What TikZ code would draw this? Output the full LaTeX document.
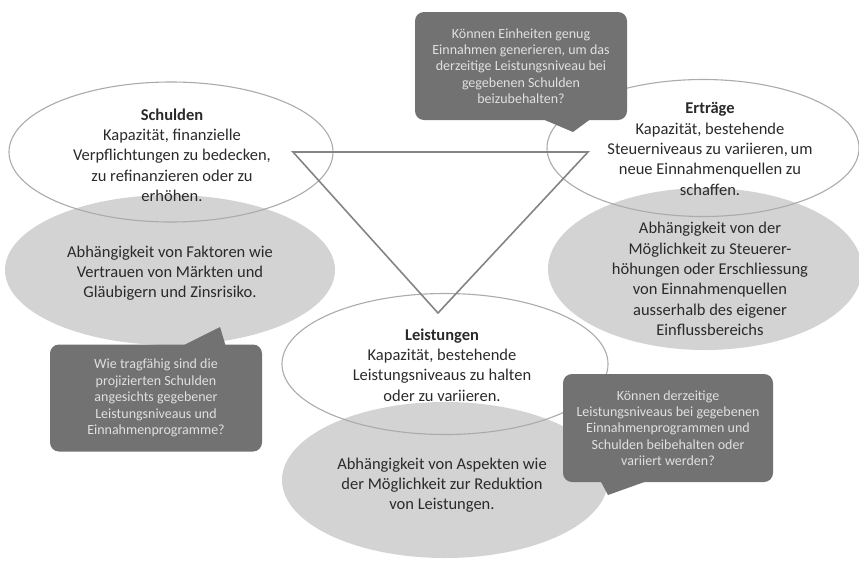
\documentclass[tikz,border=0pt]{standalone}
\usepackage{fontspec}
\setmainfont{Carlito}
\usetikzlibrary{shapes.geometric}
\definecolor{bubble}{HTML}{D3D3D3}
\definecolor{callout}{HTML}{727272}
\definecolor{rim}{HTML}{ABABAB}
\definecolor{edge}{HTML}{848484}
\definecolor{ink}{HTML}{2A2A2A}
\begin{document}
\begin{tikzpicture}[x=1pt,y=-1pt,
    grayoval/.style={ellipse,fill=bubble,inner sep=0pt},
    ringoval/.style={ellipse,draw=rim,line width=1.1pt,inner sep=0pt},
    ovaltext/.style={text=ink,align=center,font=\fontsize{16.5}{20.3}\selectfont},
    question/.style={fill=callout,rounded corners=9pt,text=white!88!black,align=center,
      inner sep=0pt,font=\fontsize{14}{16.4}\selectfont}]
   \useasboundingbox (0,0) rectangle (859,563);
   \node[grayoval,minimum width=330pt,minimum height=150pt] (debtbase) at (170,270) {};
   \node[grayoval,minimum width=314pt,minimum height=162pt] (revbase) at (705,269) {};
   \node[grayoval,minimum width=326pt,minimum height=156pt] (servbase) at (445,480) {};
   \node[ringoval,minimum width=324pt,minimum height=140pt] (debtring) at (171,152) {};
   \node[ringoval,minimum width=312pt,minimum height=137pt] (revring) at (703,148) {};
   \node[ringoval,minimum width=326pt,minimum height=141pt] (servring) at (445,364) {};
   \coordinate (tl) at (293,152);
   \coordinate (tr) at (588,152);
   \coordinate (bt) at (438,313);
   \draw[edge,line width=1.6pt,line join=miter] (tl) -- (tr) -- (bt) -- cycle;
   \node[ovaltext] (debttext) at (172,155) {\textbf{Schulden}\\Kapazität, finanzielle\\Verpflichtungen zu bedecken,\\zu refinanzieren oder zu\\erhöhen.};
   \node[ovaltext] (revtext) at (710,149) {\textbf{Erträge}\\Kapazität, bestehende\\Steuerniveaus zu variieren,\,um\\neue Einnahmenquellen zu\\schaffen.};
   \node[ovaltext] (servtext) at (442,365) {\textbf{Leistungen}\\Kapazität, bestehende\\Leistungsniveaus zu halten\\oder zu variieren.};
   \node[ovaltext] (debtdep) at (170,273) {Abhängigkeit von Faktoren wie\\Vertrauen von Märkten und\\Gläubigern und Zinsrisiko.};
   \node[ovaltext] (revdep) at (710,279) {Abhängigkeit von der\\Möglichkeit zu Steuerer-\\höhungen oder Erschliessung\\von Einnahmenquellen\\ausserhalb des eigener\\Einflussbereichs};
   \node[ovaltext] (servdep) at (442,485) {Abhängigkeit von Aspekten wie\\der Möglichkeit zur Reduktion\\von Leistungen.};
   \fill[callout] (540,118) -- (573,132) -- (592,118) -- cycle;
   \node[question,minimum width=212pt,minimum height=108pt] (q1) at (521,66) {Können Einheiten genug\\Einnahmen generieren, um das\\derzeitige Leistungsniveau bei\\gegebenen Schulden\\beizubehalten?};
   \fill[callout] (180,347) -- (220,327) -- (226,347) -- cycle;
   \node[question,minimum width=212pt,minimum height=107pt] (q2) at (156,398) {Wie tragfähig sind die\\projizierten Schulden\\angesichts gegebener\\Leistungsniveaus und\\Einnahmenprogramme?};
   \fill[callout] (600,480) -- (608,495) -- (650,480) -- cycle;
   \node[question,minimum width=210pt,minimum height=108pt] (q3) at (668,428) {Können derzeitige\\Leistungsniveaus bei gegebenen\\Einnahmenprogrammen und\\Schulden beibehalten oder\\variiert werden?};
\end{tikzpicture}
\end{document}
